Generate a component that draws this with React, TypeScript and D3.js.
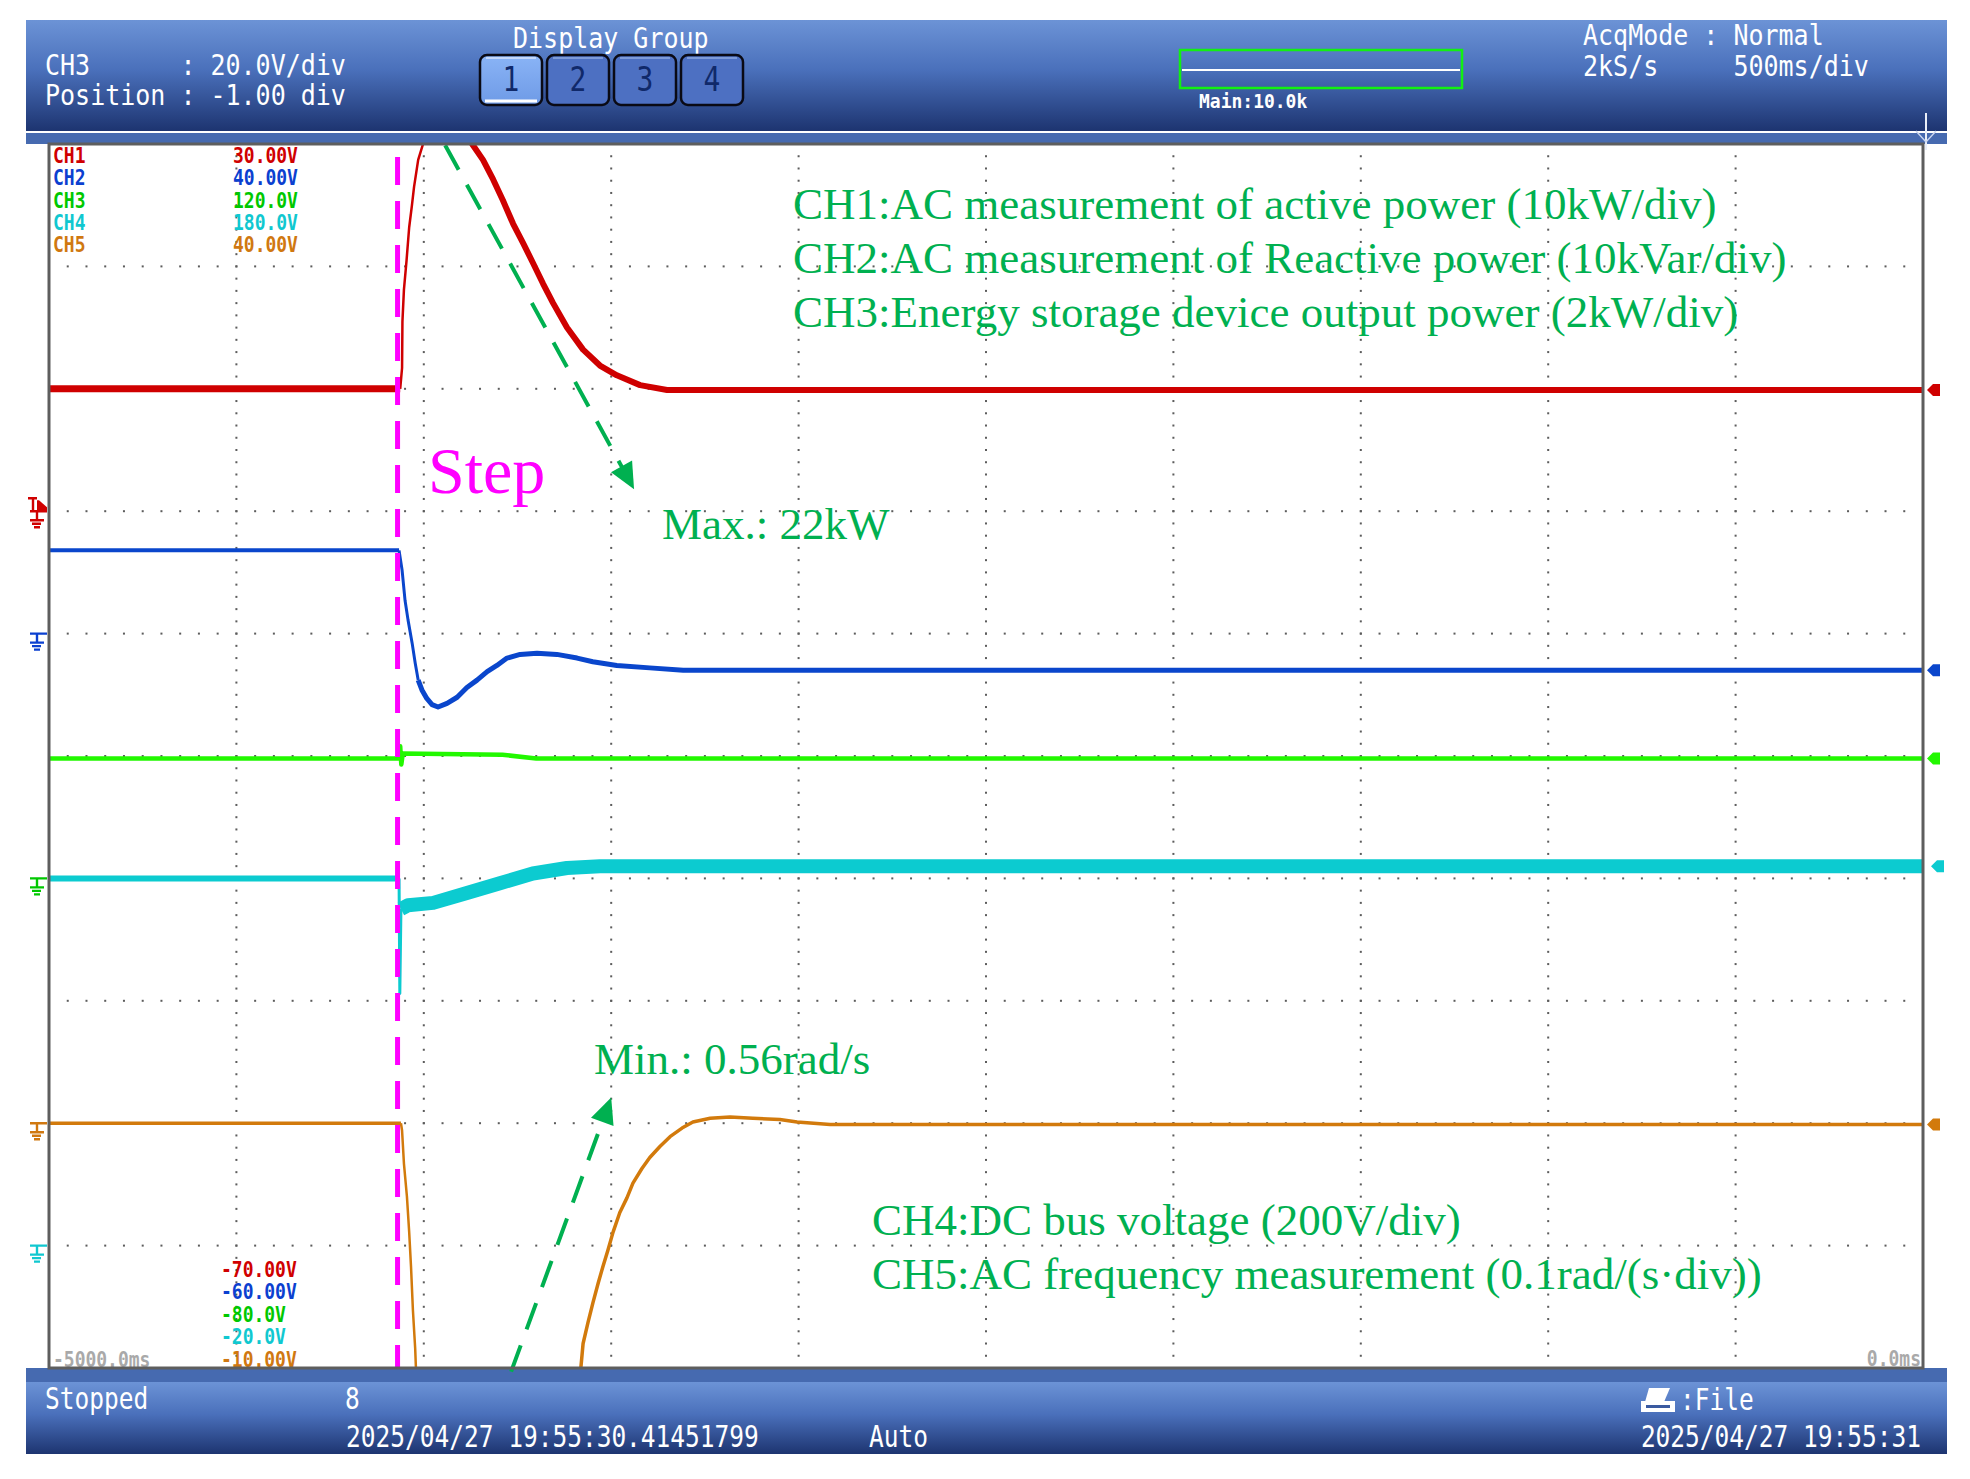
import React, { useEffect, useRef } from 'react';
import * as d3 from 'd3';

// screen values: time in ms (10 div x 500 ms), amplitude in divisions (0 = centre)
const channelNames = ['CH1', 'CH2', 'CH3', 'CH4', 'CH5'];
const upperLabels = ['30.00V', '40.00V', '120.0V', '180.0V', '40.00V'];
const lowerLabels = ['-70.00V', '-60.00V', '-80.0V', '-20.0V', '-10.00V'];
const groundLevels = [2, 1, -1, -4, -3];

const ch1 = [
  [-5000, 3.0], [-4063, 3.0], [-4058, 3.17], [-4057, 3.55], [-4053, 3.81], [-4046, 4.05],
  [-4039, 4.32], [-4032, 4.49], [-4026, 4.65], [-4015, 4.87], [-4002, 5.0], [-3938, 5.4],
  [-3871, 5.0], [-3842, 4.87], [-3815, 4.71], [-3789, 4.54], [-3762, 4.35], [-3735, 4.19],
  [-3709, 4.03], [-3682, 3.86], [-3655, 3.7], [-3618, 3.5], [-3575, 3.32], [-3530, 3.19],
  [-3485, 3.11], [-3423, 3.03], [-3351, 2.99], [0, 2.99],
];
const ch2 = [
  [-5000, 1.68], [-4066, 1.68], [-4058, 1.52], [-4050, 1.27], [-4042, 1.11], [-4031, 0.92],
  [-4023, 0.76], [-4015, 0.62], [-4005, 0.54], [-3992, 0.47], [-3978, 0.42], [-3962, 0.4],
  [-3938, 0.43], [-3911, 0.48], [-3885, 0.56], [-3858, 0.62], [-3831, 0.69], [-3805, 0.74],
  [-3778, 0.8], [-3743, 0.83], [-3698, 0.84], [-3645, 0.83], [-3591, 0.8], [-3549, 0.77],
  [-3485, 0.74], [-3397, 0.72], [-3308, 0.7], [0, 0.7],
];
const ch3 = [
  [-5000, -0.02], [-4066, -0.02], [-4063, 0.08], [-4060, -0.07], [-4056, 0.02],
  [-3790, 0.01], [-3700, -0.02], [0, -0.02],
];
const ch4 = [
  [-5000, -1.0], [-4066, -1.0], [-4064, -1.94], [-4061, -1.25], [-4042, -1.22], [-3975, -1.2],
  [-3885, -1.12], [-3797, -1.04], [-3709, -0.96], [-3618, -0.915], [-3530, -0.9], [0, -0.9],
];
const ch5 = [
  [-5000, -3.0], [-4061, -3.0], [-4058, -3.06], [-4053, -3.33], [-4045, -3.6], [-4039, -3.89],
  [-4034, -4.18], [-4029, -4.53], [-4023, -4.84], [-4021, -5.0], [-3800, -6.6], [-3581, -5.0],
  [-3575, -4.8], [-3562, -4.63], [-3549, -4.47], [-3535, -4.31], [-3522, -4.17], [-3509, -4.04],
  [-3495, -3.89], [-3477, -3.73], [-3458, -3.61], [-3442, -3.49], [-3418, -3.37], [-3397, -3.28],
  [-3370, -3.19], [-3343, -3.11], [-3311, -3.04], [-3282, -2.99], [-3236, -2.96], [-3183, -2.95],
  [-3122, -2.96], [-3050, -2.97], [-3004, -2.99], [-2916, -3.01], [0, -3.01],
];

const stepTime = -4070;
const maxArrow = [[-3943, 4.99], [-3439, 2.18]];
const minArrow = [[-3767, -5.03], [-3500, -2.79]];

const notesTop = [
  'CH1:AC measurement of active power (10kW/div)',
  'CH2:AC measurement of Reactive power (10kVar/div)',
  'CH3:Energy storage device output power (2kW/div)',
];
const notesBottom = [
  'CH4:DC bus voltage (200V/div)',
  'CH5:AC frequency measurement (0.1rad/(s·div))',
];

const labelColors = ['#d00000', '#0b40d0', '#00c800', '#10c8d0', '#d07810'];
const traceColors = ['#cf0000', '#0a46cc', '#22f800', '#0ccbd0', '#d27a0c'];

// stroke widths along each trace (time ranges), mimicking the noise band
const traceStyle = [
  [[-5000, -4063, 7], [-4063, -3938, 2.5], [-3938, 0, 6]],
  [[-5000, -4066, 4], [-4066, -4015, 3], [-4015, 0, 5]],
  [[-5000, 0, 4.5]],
  [[-5000, -4066, 6], [-4066, -4061, 3], [-4061, 0, 14]],
  [[-5000, -4061, 3.5], [-4061, -3581, 2.5], [-3581, 0, 3.5]],
];

const App = () => {
  const ref = useRef(null);

  useEffect(() => {
    const root = d3.select(ref.current);
    root.selectAll('*').remove();

    const svg = root
      .append('svg')
      .attr('width', 1970)
      .attr('height', 1479)
      .style('display', 'block');

    const plot = { left: 49, top: 144, right: 1923, bottom: 1368 };
    const x = d3.scaleLinear().domain([-5000, 0]).range([plot.left, plot.right]);
    const y = d3.scaleLinear().domain([-5, 5]).range([plot.bottom, plot.top]);

    const defs = svg.append('defs');
    const grad = defs
      .append('linearGradient')
      .attr('id', 'bar')
      .attr('x1', 0).attr('y1', 0).attr('x2', 0).attr('y2', 1);
    grad.append('stop').attr('offset', 0).attr('stop-color', '#6c93d6');
    grad.append('stop').attr('offset', 0.45).attr('stop-color', '#4a70bb');
    grad.append('stop').attr('offset', 1).attr('stop-color', '#1d3470');
    const btn = defs
      .append('linearGradient')
      .attr('id', 'btn1')
      .attr('x1', 0).attr('y1', 0).attr('x2', 0).attr('y2', 1);
    btn.append('stop').attr('offset', 0).attr('stop-color', '#8ab4f6');
    btn.append('stop').attr('offset', 1).attr('stop-color', '#6e9ae6');
    defs
      .append('clipPath')
      .attr('id', 'screen')
      .append('rect')
      .attr('x', plot.left)
      .attr('y', plot.top)
      .attr('width', plot.right - plot.left)
      .attr('height', plot.bottom - plot.top);

    svg.append('rect').attr('width', 1970).attr('height', 1479).attr('fill', '#fff');

    const mono = (sel, str, tx, ty, o: any = {}) =>
      sel
        .append('text')
        .attr('transform', `translate(${tx},${ty}) scale(1,${o.sy ?? 1.1})`)
        .attr('font-family', '"DejaVu Sans Mono", monospace')
        .attr('font-size', o.size ?? 25)
        .attr('font-weight', o.bold ? 'bold' : 'normal')
        .attr('fill', o.fill ?? '#ffffff')
        .attr('text-anchor', o.anchor ?? 'start')
        .style('white-space', 'pre')
        .text(str);

    // header
    svg.append('rect').attr('x', 26).attr('y', 20).attr('width', 1921).attr('height', 111).attr('fill', 'url(#bar)');
    svg.append('rect').attr('x', 26).attr('y', 131).attr('width', 1921).attr('height', 2).attr('fill', '#ffffff');
    svg.append('rect').attr('x', 26).attr('y', 133).attr('width', 1921).attr('height', 11).attr('fill', '#466ab0');

    mono(svg, 'CH3      : 20.0V/div', 45, 75);
    mono(svg, 'Position : -1.00 div', 45, 105);
    mono(svg, 'Display Group', 513, 48);
    ['1', '2', '3', '4'].forEach((n, i) => {
      const bx = 480 + i * 67;
      svg
        .append('rect')
        .attr('x', bx).attr('y', 55).attr('width', 62).attr('height', 50).attr('rx', 7)
        .attr('fill', i === 0 ? 'url(#btn1)' : '#4d70c2')
        .attr('stroke', '#0a0a14')
        .attr('stroke-width', 2.5);
      svg
        .append('line')
        .attr('x1', bx + 6).attr('x2', bx + 56).attr('y1', 58).attr('y2', 58)
        .attr('stroke', i === 0 ? '#c4d8fa' : '#7c9ad8').attr('stroke-width', 2);
      if (i === 0) {
        svg.append('line').attr('x1', bx + 5).attr('x2', bx + 57).attr('y1', 101).attr('y2', 101)
          .attr('stroke', '#ffffff').attr('stroke-width', 3);
      }
      mono(svg, n, bx + 31, 91, { size: 28, sy: 1.2, fill: '#10296a', anchor: 'middle' });
    });

    svg.append('rect').attr('x', 1180).attr('y', 50).attr('width', 282).attr('height', 38)
      .attr('fill', 'none').attr('stroke', '#12f012').attr('stroke-width', 2.5);
    svg.append('line').attr('x1', 1182).attr('x2', 1460).attr('y1', 70).attr('y2', 70)
      .attr('stroke', '#ffffff').attr('stroke-width', 2);
    mono(svg, 'Main:10.0k', 1199, 108, { size: 18, bold: true, sy: 1.05 });
    mono(svg, 'AcqMode : Normal', 1583, 45);
    mono(svg, '2kS/s     500ms/div', 1583, 76);

    svg.append('line').attr('x1', 1926).attr('x2', 1926).attr('y1', 113).attr('y2', 150)
      .attr('stroke', '#e8eef8').attr('stroke-width', 2);
    svg.append('polyline').attr('points', '1916,131 1926,142 1936,131')
      .attr('fill', 'none').attr('stroke', '#c8d4ee').attr('stroke-width', 1.5);

    // footer
    svg.append('rect').attr('x', 26).attr('y', 1368).attr('width', 1921).attr('height', 14).attr('fill', '#466ab0');
    svg.append('rect').attr('x', 26).attr('y', 1382).attr('width', 1921).attr('height', 72).attr('fill', 'url(#bar)');
    mono(svg, 'Stopped', 45, 1409, { size: 24.5, sy: 1.25 });
    mono(svg, '8', 345, 1409, { size: 24.5, sy: 1.25 });
    mono(svg, '2025/04/27 19:55:30.41451799', 346, 1447, { size: 24.5, sy: 1.25 });
    mono(svg, 'Auto', 869, 1447, { size: 24.5, sy: 1.25 });
    mono(svg, ':File', 1680, 1410, { size: 24.5, sy: 1.25 });
    mono(svg, '2025/04/27 19:55:31', 1921, 1447, { size: 24.5, sy: 1.25, anchor: 'end' });
    svg.append('polygon').attr('points', '1649,1388 1670,1388 1664,1402 1645,1402').attr('fill', '#ffffff');
    svg.append('rect').attr('x', 1641).attr('y', 1401).attr('width', 34).attr('height', 11).attr('fill', '#ffffff');
    svg.append('rect').attr('x', 1646).attr('y', 1405).attr('width', 24).attr('height', 3).attr('fill', '#3a5aa0');

    // grid dots
    const dotPts = [];
    d3.range(1, 10).forEach((k) => {
      d3.range(1, 100).forEach((j) => {
        dotPts.push([x(-5000 + 500 * k), y(-5 + j * 0.1)]);
        dotPts.push([x(-5000 + 50 * j), y(-5 + k)]);
      });
    });
    svg
      .append('g')
      .attr('fill', '#5c5c5c')
      .selectAll('rect')
      .data(dotPts)
      .join('rect')
      .attr('x', (d) => d[0] - 1)
      .attr('y', (d) => d[1] - 1)
      .attr('width', 2)
      .attr('height', 2);

    // channel scale labels
    channelNames.forEach((c, i) => {
      mono(svg, c, 53, 163 + i * 22.3, { size: 18, bold: true, sy: 1.15, fill: labelColors[i] });
      mono(svg, upperLabels[i], 233, 163 + i * 22.3, { size: 18, bold: true, sy: 1.15, fill: labelColors[i] });
      mono(svg, lowerLabels[i], 221, 1277 + i * 22.4, { size: 18, bold: true, sy: 1.15, fill: labelColors[i] });
    });
    mono(svg, '-5000.0ms', 53, 1367, { size: 18, bold: true, sy: 1.15, fill: '#a9a9a9' });
    mono(svg, '0.0ms', 1921, 1366, { size: 18, bold: true, sy: 1.15, fill: '#a9a9a9', anchor: 'end' });

    // annotation text
    const serif = (str, tx, ty, size, fill) =>
      svg
        .append('text')
        .attr('x', tx)
        .attr('y', ty)
        .attr('font-family', '"Liberation Serif", "Times New Roman", serif')
        .attr('font-size', size)
        .attr('fill', fill)
        .style('white-space', 'pre')
        .text(str);
    notesTop.forEach((t, i) => serif(t, 793, 219 + i * 54, 45, '#00b050'));
    notesBottom.forEach((t, i) => serif(t, 872, 1235 + i * 54, 45, '#00b050'));
    serif('Max.: 22kW', 662, 539, 45, '#00b050');
    serif('Min.: 0.56rad/s', 594, 1074, 45, '#00b050');
    serif('Step', 428, 493, 66, '#ff00ff');

    // traces
    const line = d3.line().x((d) => x(d[0])).y((d) => y(d[1]));
    const traces = svg.append('g').attr('clip-path', 'url(#screen)');
    [ch1, ch2, ch3, ch4, ch5].forEach((data, i) => {
      traceStyle[i].forEach(([from, to, w]) => {
        traces
          .append('path')
          .datum(data.filter((d) => d[0] >= from && d[0] <= to))
          .attr('d', line)
          .attr('fill', 'none')
          .attr('stroke', traceColors[i])
          .attr('stroke-width', w)
          .attr('stroke-linejoin', 'round');
      });
    });

    // step marker
    svg
      .append('line')
      .attr('x1', x(stepTime)).attr('x2', x(stepTime))
      .attr('y1', y(5) + 13).attr('y2', y(-5))
      .attr('stroke', '#ff00ff')
      .attr('stroke-width', 5)
      .attr('stroke-dasharray', '28 16');

    // dashed arrows
    [maxArrow, minArrow].forEach((a) => {
      const [x0, y0] = [x(a[0][0]), y(a[0][1])];
      const [x1, y1] = [x(a[1][0]), y(a[1][1])];
      const len = Math.hypot(x1 - x0, y1 - y0);
      const ux = (x1 - x0) / len;
      const uy = (y1 - y0) / len;
      const bx = x1 - ux * 26;
      const by = y1 - uy * 26;
      svg
        .append('line')
        .attr('x1', x0).attr('y1', y0).attr('x2', bx + ux * 4).attr('y2', by + uy * 4)
        .attr('stroke', '#00b050')
        .attr('stroke-width', 4)
        .attr('stroke-dasharray', '28 17');
      svg
        .append('polygon')
        .attr('points', `${x1},${y1} ${bx - uy * 12},${by + ux * 12} ${bx + uy * 12},${by - ux * 12}`)
        .attr('fill', '#00b050');
    });

    // frame
    svg
      .append('rect')
      .attr('x', plot.left).attr('y', plot.top)
      .attr('width', plot.right - plot.left).attr('height', plot.bottom - plot.top)
      .attr('fill', 'none')
      .attr('stroke', '#5e5e5e')
      .attr('stroke-width', 3);

    // ground symbols on the left
    groundLevels.forEach((g, i) => {
      const gy = y(g);
      svg
        .append('path')
        .attr('d', `M30,${gy}H47M37,${gy}V${gy + 9}M30,${gy + 9}H44M32,${gy + 12.5}H41M34,${gy + 16}H40`)
        .attr('fill', 'none')
        .attr('stroke', labelColors[i])
        .attr('stroke-width', 2.4);
      if (i === 0) {
        svg.append('path').attr('d', `M28,${gy - 13}H37M33,${gy - 13}V${gy}`)
          .attr('fill', 'none').attr('stroke', labelColors[i]).attr('stroke-width', 2.4);
        svg.append('polygon').attr('points', `37,${gy} 47,${gy} 47,${gy - 4} 39,${gy - 11} 37,${gy - 11}`)
          .attr('fill', labelColors[i]);
      }
    });

    // level markers on the right
    [ch1, ch2, ch3, ch4, ch5].forEach((data, i) => {
      const cy = y(data[data.length - 1][1]);
      const ox = i === 3 ? 4 : 0;
      svg
        .append('polygon')
        .attr('points', `${1927 + ox},${cy} ${1933 + ox},${cy - 6} ${1940 + ox},${cy - 6} ${1940 + ox},${cy + 6} ${1933 + ox},${cy + 6}`)
        .attr('fill', traceColors[i]);
    });
  }, []);

  return (
    <div
      ref={ref}
      style={{ position: 'absolute', left: 0, top: 0, width: 1970, height: 1479, background: '#fff' }}
    />
  );
};

export default App;
